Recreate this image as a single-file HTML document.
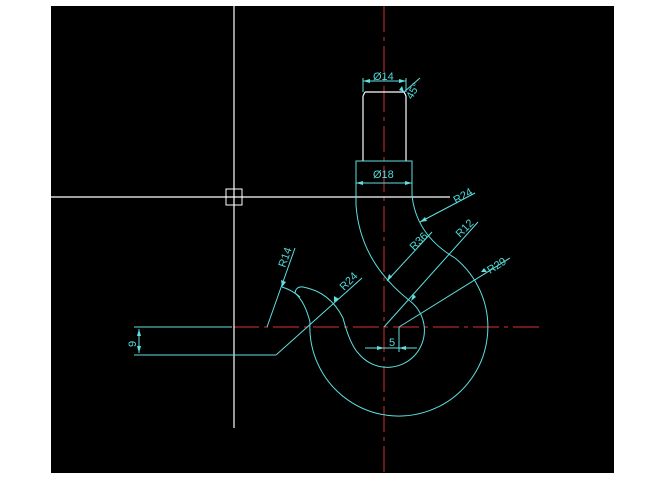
<!DOCTYPE html>
<html><head><style>
html,body{margin:0;padding:0;background:#fff;}
svg{display:block;}
text{font-family:"Liberation Sans",sans-serif;fill:#4fd8d8;font-size:11px;}
</style></head><body>
<svg width="663" height="482" viewBox="0 0 663 482">
<rect x="51" y="6" width="563" height="467" fill="#000"/>
<line x1="384" y1="6" x2="384" y2="473" stroke="#b02828" stroke-width="1.2" stroke-dasharray="26,5,4,5"/>
<line x1="233" y1="327" x2="540" y2="327" stroke="#b02828" stroke-width="1.2" stroke-dasharray="26,5,4,5"/>
<line x1="234" y1="6" x2="234" y2="428" stroke="#fff" stroke-width="1.2"/>
<line x1="51" y1="197" x2="450" y2="197" stroke="#fff" stroke-width="1.2"/>
<rect x="226" y="189" width="16" height="16" fill="none" stroke="#fff" stroke-width="1"/>
<g fill="none" stroke="#fff" stroke-width="1.2">
<line x1="363" y1="96" x2="363" y2="161"/>
<line x1="406" y1="96" x2="406" y2="161"/>
<line x1="365" y1="92" x2="404" y2="92"/>
<line x1="363" y1="96" x2="365" y2="92"/><line x1="406" y1="96" x2="404" y2="92"/>
</g>
<g fill="none" stroke="#5ee0e0" stroke-width="1">
<rect x="356" y="161" width="56" height="22"/>
<path d="M356,183 L356,205 Q360,262 410,301"/>
<path d="M412,183 L412,195 Q416,235 455,258"/>
<path d="M455,258 A89,89 0 1 1 310,322"/>
<path d="M310,322 Q305,302 295,293 Q296,286 303,287"/>
<path d="M303,287 Q330,292 343,318 Q350,345 359,354"/>
<path d="M359,354 A37,37 0 1 0 410,301"/>
<path d="M282,287 Q292,290 300,297"/>
<line x1="134" y1="327" x2="232" y2="327"/>
<line x1="134" y1="355" x2="276" y2="355"/>
<line x1="276" y1="355" x2="362" y2="278"/>
<line x1="139" y1="329" x2="139" y2="353"/>
<line x1="267" y1="327" x2="295" y2="248"/>
<line x1="420" y1="222" x2="475" y2="193"/>
<line x1="387" y1="281" x2="432" y2="232"/>
<line x1="384" y1="327" x2="478" y2="222"/>
<line x1="399" y1="327" x2="510" y2="258"/>
<line x1="399" y1="327" x2="399" y2="352"/>
<line x1="365" y1="348" x2="417" y2="348"/>
<line x1="363" y1="81" x2="406" y2="81"/>
<line x1="363" y1="78" x2="363" y2="92"/>
<line x1="406" y1="78" x2="406" y2="92"/>
<line x1="404" y1="92" x2="420" y2="78"/>
</g>
<g fill="#5ee0e0">
<polygon points="363,81 370,79 370,83"/><polygon points="406,81 399,79 399,83"/>
<polygon points="356,183 363,181 363,185"/><polygon points="412,183 405,181 405,185"/>
<polygon points="384,348 377,346 377,350"/><polygon points="399,348 406,346 406,350"/>
<polygon points="139,329 137,336 141,336"/><polygon points="139,353 137,346 141,346"/>
<polygon points="404,92 399,90 402,86"/>
<polygon points="420,222 425,217 427,221"/>
<polygon points="387,281 389,274 392,277"/>
<polygon points="411,301 413,294 416,297"/>
<polygon points="487,272 481,272 484,268"/>
<polygon points="282,287 281,280 286,282"/>
<polygon points="334,302 334,296 339,299"/>
</g>
<text x="373" y="80">Ø14</text>
<text x="373" y="178">Ø18</text>
<text x="389" y="346" font-size="12">5</text>
<text transform="translate(136,347) rotate(-90)">9</text>
<text transform="translate(412,100) rotate(-60)" font-size="10">45°</text>
<text transform="translate(456,204) rotate(-30)">R24</text>
<text transform="translate(414,251) rotate(-45)">R36</text>
<text transform="translate(460,238) rotate(-45)">R12</text>
<text transform="translate(490,274) rotate(-32)">R29</text>
<text transform="translate(285,268) rotate(-70)">R14</text>
<text transform="translate(344,291) rotate(-45)">R24</text>
</svg>
</body></html>
